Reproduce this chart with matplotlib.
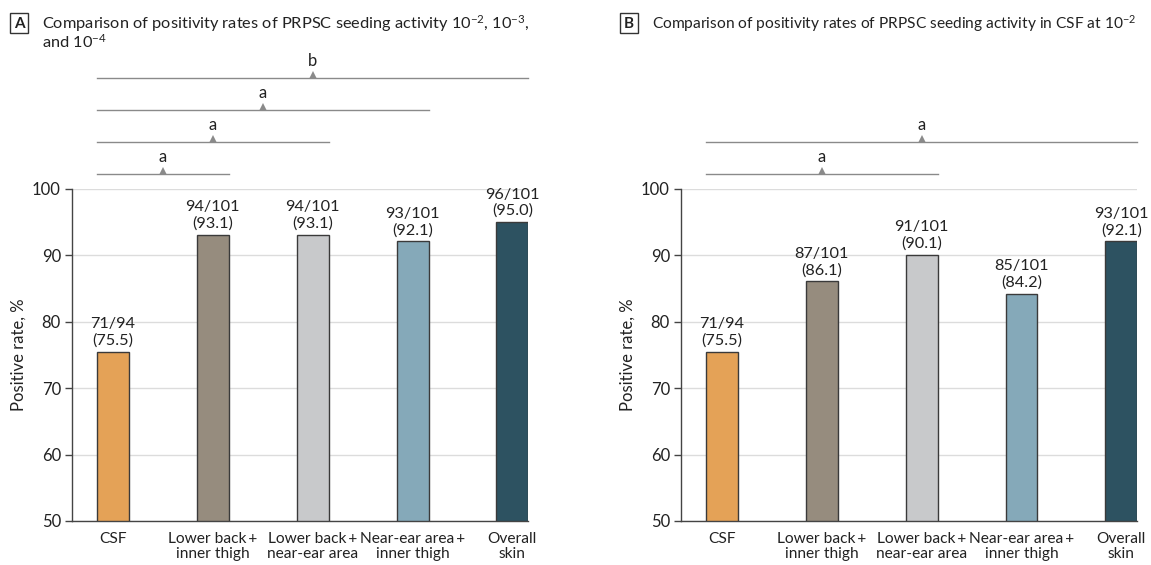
import matplotlib
matplotlib.use("Agg")
import matplotlib.pyplot as plt
from matplotlib.patches import Rectangle

FONT = 'Lato'
plt.rcParams['font.family'] = [FONT, 'DejaVu Sans']
plt.rcParams['mathtext.fontset'] = 'custom'
plt.rcParams['mathtext.rm'] = FONT
plt.rcParams['mathtext.it'] = FONT

categories = ["CSF", "Lower back\u2009+\ninner thigh", "Lower back\u2009+\nnear-ear area",
              "Near-ear area\u2009+\ninner thigh", "Overall\nskin"]
colors = ["#E4A257", "#968C7E", "#C8C9CB", "#85A9B9", "#2D5261"]

a_values = [75.5, 93.1, 93.1, 92.1, 95.0]
a_labels = ["71/94\n(75.5)", "94/101\n(93.1)", "94/101\n(93.1)", "93/101\n(92.1)", "96/101\n(95.0)"]
a_brackets = [(0, 1, "a"), (0, 2, "a"), (0, 3, "a"), (0, 4, "b")]

b_values = [75.5, 86.1, 90.1, 84.2, 92.1]
b_labels = ["71/94\n(75.5)", "87/101\n(86.1)", "91/101\n(90.1)", "85/101\n(84.2)", "93/101\n(92.1)"]
b_brackets = [(0, 2, "a"), (0, 4, "a")]

yticks = [50, 60, 70, 80, 90, 100]
bracket_levels = [102.3, 107.1, 111.9, 116.7]

fig = plt.figure(figsize=(11.51, 5.65), dpi=100)

W = 0.32
def draw(ax, values, labels, brackets):
    x = list(range(len(values)))
    ax.bar(x, [v - 50 for v in values], bottom=50, width=W, color=colors,
           edgecolor="#3a3a3a", linewidth=1.0, zorder=3)
    for xi, v, lab in zip(x, values, labels):
        ax.text(xi, v + 0.6, lab, ha="center", va="bottom", fontsize=11.7,
                color="#222222", linespacing=1.2)
    ax.set_ylim(50, 100)
    ax.set_xlim(-0.41, 4.155)
    ax.set_yticks(yticks)
    ax.set_xticks(x)
    ax.set_xticklabels(categories, fontsize=11.2, linespacing=1.1, color="#222222")
    ax.tick_params(axis="x", length=0, pad=8)
    ax.tick_params(axis="y", length=5, width=1, color="#444444", labelsize=12,
                   labelcolor="#222222", pad=3)
    ax.grid(axis="y", color="#dcdcdc", linewidth=1.0, zorder=0)
    for s in ["top", "right"]:
        ax.spines[s].set_visible(False)
    for s in ["left", "bottom"]:
        ax.spines[s].set_color("#444444")
        ax.spines[s].set_linewidth(1.0)
    ax.set_ylabel("Positive rate, %", fontsize=12, color="#222222", labelpad=4)
    for lvl, (i, j, letter) in enumerate(brackets):
        y = bracket_levels[lvl]
        x0 = i - W / 2
        x1 = j + W / 2
        ax.plot([x0, x1], [y, y], color="#8a8a8a", linewidth=1.0, clip_on=False)
        xc = (x0 + x1) / 2
        ax.plot([xc], [y + 0.45], marker="^", markersize=6, color="#8a8a8a",
                clip_on=False, markeredgewidth=0)
        ax.text(xc, y + 1.3, letter, ha="center", va="bottom", fontsize=12,
                color="#222222")

axA = fig.add_axes([0.0626, 0.0779, 0.396, 0.5876])
draw(axA, a_values, a_labels, a_brackets)
axB = fig.add_axes([0.5917, 0.0779, 0.396, 0.5876])
draw(axB, b_values, b_labels, b_brackets)

def panel(xbox, letter, title, size):
    fig.patches.append(Rectangle((xbox / 1151, 1 - 33 / 565), 18 / 1151, 20 / 565,
                                 transform=fig.transFigure, fill=False,
                                 edgecolor="#333333", linewidth=1.0))
    fig.text((xbox + 9) / 1151, 1 - 23.5 / 565, letter, ha="center", va="center",
             fontsize=11, fontweight="bold", color="#222222")
    fig.text((xbox + 32) / 1151, 1 - 13 / 565, title, ha="left", va="top",
             fontsize=size, color="#222222", linespacing=0.95)

panel(10, "A", "Comparison of positivity rates of PRPSC seeding activity 10$^{-2}$, 10$^{-3}$,\nand 10$^{-4}$", 11.8)
panel(620, "B", "Comparison of positivity rates of PRPSC seeding activity in CSF at 10$^{-2}$", 11.2)

fig.savefig("out.png", dpi=100)
